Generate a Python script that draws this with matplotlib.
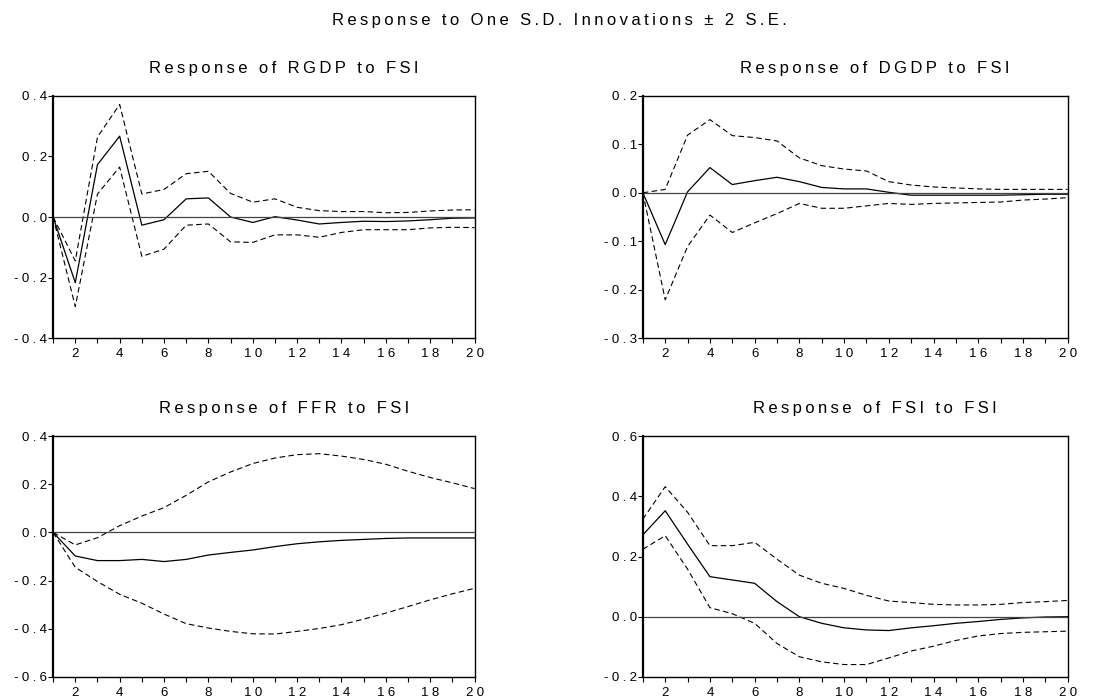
import matplotlib
matplotlib.use('Agg')
import matplotlib.pyplot as plt
from matplotlib.ticker import FuncFormatter, MultipleLocator

plt.rcParams['font.family'] = ['Liberation Sans', 'DejaVu Sans']

periods = list(range(1, 21))

rgdp_mid = [0, -0.217, 0.173, 0.267, -0.027, -0.009, 0.06, 0.063, 0.0, -0.018,
            0.001, -0.01, -0.023, -0.018, -0.014, -0.015, -0.013, -0.009, -0.004, -0.003]
rgdp_up = [0, -0.145, 0.264, 0.372, 0.076, 0.091, 0.143, 0.151, 0.078, 0.049,
           0.06, 0.032, 0.021, 0.018, 0.018, 0.014, 0.015, 0.02, 0.023, 0.024]
rgdp_lo = [0, -0.296, 0.076, 0.165, -0.13, -0.106, -0.027, -0.023, -0.082, -0.084,
           -0.059, -0.059, -0.067, -0.051, -0.042, -0.042, -0.042, -0.036, -0.034, -0.035]

dgdp_mid = [0, -0.107, 0.002, 0.052, 0.017, 0.025, 0.032, 0.023, 0.011, 0.008,
            0.008, 0.001, -0.005, -0.005, -0.005, -0.005, -0.005, -0.004, -0.003, -0.003]
dgdp_up = [0, 0.007, 0.119, 0.151, 0.118, 0.114, 0.107, 0.072, 0.056, 0.049,
           0.045, 0.023, 0.016, 0.012, 0.01, 0.008, 0.007, 0.007, 0.007, 0.007]
dgdp_lo = [0, -0.221, -0.111, -0.046, -0.082, -0.062, -0.043, -0.022, -0.032, -0.032,
           -0.027, -0.022, -0.024, -0.022, -0.021, -0.02, -0.019, -0.015, -0.013, -0.01]

ffr_mid = [0, -0.098, -0.117, -0.117, -0.112, -0.121, -0.112, -0.094, -0.083, -0.073,
           -0.059, -0.047, -0.039, -0.033, -0.029, -0.025, -0.023, -0.023, -0.023, -0.023]
ffr_up = [0, -0.052, -0.022, 0.028, 0.068, 0.103, 0.154, 0.21, 0.251, 0.286,
          0.309, 0.323, 0.327, 0.317, 0.303, 0.283, 0.254, 0.228, 0.206, 0.182]
ffr_lo = [0, -0.145, -0.204, -0.257, -0.294, -0.339, -0.379, -0.397, -0.411, -0.421,
          -0.422, -0.411, -0.399, -0.383, -0.36, -0.335, -0.308, -0.28, -0.255, -0.232]

fsi_mid = [0.272, 0.352, 0.241, 0.133, 0.122, 0.111, 0.05, 0.0, -0.022, -0.037,
           -0.044, -0.046, -0.037, -0.03, -0.022, -0.016, -0.009, -0.004, -0.001, 0.0]
fsi_up = [0.324, 0.432, 0.347, 0.236, 0.236, 0.247, 0.191, 0.138, 0.111, 0.094,
          0.071, 0.052, 0.047, 0.041, 0.039, 0.039, 0.041, 0.047, 0.05, 0.054]
fsi_lo = [0.224, 0.269, 0.158, 0.03, 0.01, -0.022, -0.089, -0.133, -0.15, -0.159,
          -0.159, -0.137, -0.114, -0.098, -0.079, -0.064, -0.056, -0.052, -0.05, -0.048]

titles = ['Response of RGDP to FSI', 'Response of DGDP to FSI',
          'Response of FFR to FSI', 'Response of FSI to FSI']
ylims = [(-0.4, 0.4), (-0.3, 0.2), (-0.6, 0.4), (-0.2, 0.6)]
ysteps = [0.2, 0.1, 0.2, 0.2]
suptitle = 'Response to One S.D. Innovations \u00b1 2 S.E.'


# EViews draws its text letter-spaced; imitate that with narrow space chars
def spread(s, sep):
    return sep.join(s)


def ylabel_fmt(v, pos):
    s = '%.1f' % v
    if s == '-0.0':
        s = '0.0'
    return spread(s, '\u2005')


def xlabel_fmt(v, pos):
    return spread(str(int(round(v))), '\u2005')


def draw_panel(ax, mid, up, lo, title, ylim, ystep):
    ax.plot(periods, mid, color='black', linewidth=0.9)
    ax.plot(periods, up, color='black', linewidth=0.8, linestyle=(0, (5, 3)))
    ax.plot(periods, lo, color='black', linewidth=0.8, linestyle=(0, (5, 3)))
    ax.axhline(0, color='#444444', linewidth=0.9)
    ax.set_xlim(1, 20)
    ax.set_ylim(*ylim)
    ax.yaxis.set_major_locator(MultipleLocator(ystep))
    ax.yaxis.set_major_formatter(FuncFormatter(ylabel_fmt))
    ax.xaxis.set_major_locator(MultipleLocator(2))
    ax.xaxis.set_minor_locator(MultipleLocator(1))
    ax.xaxis.set_major_formatter(FuncFormatter(xlabel_fmt))
    ax.tick_params(direction='out', labelsize=9.5, length=3.6, width=0.8)
    ax.tick_params(axis='x', which='both', length=3.6, width=0.8, pad=3.5)
    ax.tick_params(axis='y', pad=0.5)
    for sp in ax.spines.values():
        sp.set_linewidth(1.0)
    ax.spines['left'].set_linewidth(1.6)
    t = ax.set_title(spread(title, '\u2009'), fontsize=12, pad=16.5)
    t.set_x(0.547)


fig = plt.figure(figsize=(11.18, 7), dpi=100)
positions = [
    [0.0475, 0.517, 0.377, 0.346],
    [0.575, 0.517, 0.380, 0.346],
    [0.0475, 0.033, 0.377, 0.344],
    [0.575, 0.033, 0.380, 0.344],
]
data = [(rgdp_mid, rgdp_up, rgdp_lo), (dgdp_mid, dgdp_up, dgdp_lo),
        (ffr_mid, ffr_up, ffr_lo), (fsi_mid, fsi_up, fsi_lo)]

for i in range(4):
    ax = fig.add_axes(positions[i])
    mid, up, lo = data[i]
    draw_panel(ax, mid, up, lo, titles[i], ylims[i], ysteps[i])

fig.text(0.5, 1 - 24.5 / 700, spread(suptitle, '\u2009'),
         ha='center', va='baseline', fontsize=12)

fig.savefig('out.png', dpi=100)
